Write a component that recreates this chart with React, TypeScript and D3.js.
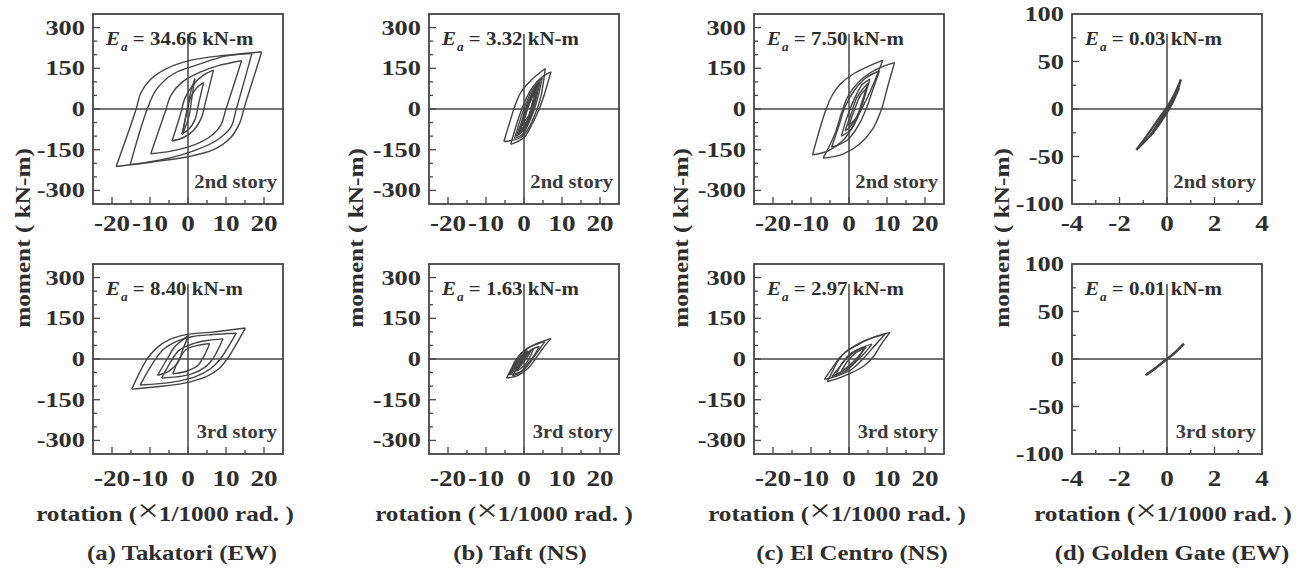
import React from 'react';
import * as d3 from 'd3';

type Pt = [number, number];

// panel texts
const captions = ['(a) Takatori (EW)', '(b) Taft (NS)', '(c) El Centro (NS)', '(d) Golden Gate (EW)'];
const stories = ['2nd story', '3rd story'];
const energy2nd = ['34.66', '3.32', '7.50', '0.03'];
const energy3rd = ['8.40', '1.63', '2.97', '0.01'];

// axis ticks
const momentTicks = [-300, -150, 0, 150, 300];
const momentMinor = [-300, -250, -200, -150, -100, -50, 0, 50, 100, 150, 200, 250, 300];
const rotationTicks = [-20, -10, 0, 10, 20];
const rotationMinor = [-20, -15, -10, -5, 0, 5, 10, 15, 20];
const ggMomentTicks = [-100, -50, 0, 50, 100];
const ggMomentMinor = [-75, -50, -25, 0, 25, 50, 75];
const ggRotationTicks = [-4, -2, 0, 2, 4];
const ggRotationMinor = [-3, -2, -1, 0, 1, 2, 3];

// hysteresis loops: [rotation (x1/1000 rad), moment (kN-m)]
// each loop starts at its negative peak, climbs to its positive peak and comes back
const takatori2nd: Pt[][] = [
  [[-18.9, -212], [-13.7, -3], [-12.4, 60], [-9.8, 110], [-5.5, 150], [0.6, 179], [9.3, 197], [19.4, 210], [14.9, 10], [13.6, -52], [11.0, -109], [6.7, -150], [-0.3, -177], [-9.8, -196], [-18.9, -212]],
  [[-15.2, -205], [-10.8, -3], [-8.3, 72], [-3.9, 129], [3.2, 166], [9.8, 195], [16.8, 204], [12.8, 4], [11.2, -69], [7.6, -115], [1.5, -154], [-7.2, -188], [-15.2, -205]],
  [[-9.8, -165], [-6.0, -10], [-4.5, 50], [-1.5, 100], [3.0, 135], [8.0, 160], [14.1, 178], [10.0, 0], [8.6, -60], [5.5, -105], [0.5, -138], [-4.5, -155], [-9.8, -165]],
  [[-4.2, -118], [-2.0, -20], [-0.8, 40], [1.5, 92], [4.0, 124], [6.7, 143], [4.5, 20], [3.6, -30], [1.5, -78], [-1.2, -105], [-4.2, -118]],
  [[-1.6, -92], [-0.4, -20], [0.6, 40], [2.3, 78], [4.1, 97], [2.8, 20], [1.8, -40], [0.2, -75], [-1.6, -92]],
  [[-1.5, -95], [-0.5, -20], [0.5, 50], [1.8, 112], [1.0, 40], [0.2, -30], [-1.5, -95]],
];
const takatori3rd: Pt[][] = [
  [[-14.8, -111], [-10.9, -3], [-8.2, 41], [-4.8, 72], [-0.5, 90], [5.7, 98], [15.1, 114], [10.5, 4], [8.3, -34], [4.8, -65], [-1.3, -90], [-8.2, -102], [-14.8, -111]],
  [[-12.6, -96], [-9.0, -10], [-6.5, 35], [-3.0, 65], [1.0, 82], [6.5, 90], [12.7, 95], [8.5, 0], [6.0, -35], [2.0, -65], [-4.0, -85], [-12.6, -96]],
  [[-6.9, -70], [-4.5, -10], [-2.5, 30], [1.0, 55], [5.0, 68], [9.2, 74], [6.5, 0], [4.5, -30], [1.0, -55], [-3.0, -66], [-6.9, -70]],
  [[-4.0, -55], [-2.5, -5], [-0.5, 35], [2.5, 50], [5.7, 56], [4.0, 5], [2.5, -25], [-0.5, -45], [-4.0, -55]],
  [[-8.0, -60], [-5.5, 0], [-3.5, 45], [-1.0, 75], [0.2, 88], [-1.5, 30], [-2.5, -10], [-5.0, -45], [-8.0, -60]],
];
const taft2nd: Pt[][] = [
  [[-5.3, -120], [-3.5, -37], [-2.2, 19], [-0.8, 62], [1.8, 105], [5.6, 149], [4.4, 43], [3.1, -12], [1.3, -68], [-0.8, -105], [-5.3, -120]],
  [[-3.5, -130], [-1.8, -50], [0.0, 20], [2.0, 75], [4.5, 115], [7.1, 138], [5.5, 60], [4.0, 0], [2.0, -60], [0.0, -105], [-3.5, -130]],
  [[-2.5, -108], [-1.0, -40], [0.5, 20], [2.2, 70], [4.8, 115], [3.6, 40], [2.5, -10], [1.0, -60], [-0.5, -95], [-2.5, -108]],
  [[-1.5, -92], [0.0, -30], [1.2, 30], [2.8, 75], [4.2, 102], [3.2, 40], [2.0, -20], [0.5, -65], [-1.5, -92]],
  [[-1.0, -78], [0.3, -20], [1.5, 30], [3.4, 88], [2.4, 30], [1.5, -20], [0.2, -60], [-1.0, -78]],
  [[-0.5, -62], [0.8, 0], [2.0, 50], [3.2, 72], [2.0, 10], [1.0, -40], [-0.5, -62]],
  [[-2.0, -100], [-0.6, -45], [0.8, 15], [2.5, 65], [4.0, 90], [2.6, 25], [1.4, -30], [-0.2, -80], [-2.0, -100]],
  [[-1.2, -85], [0.1, -35], [1.4, 20], [3.0, 70], [3.8, 84], [2.8, 30], [1.6, -25], [0.0, -70], [-1.2, -85]],
  [[-0.2, -50], [1.0, 5], [2.2, 45], [3.0, 60], [2.2, 20], [1.2, -25], [-0.2, -50]],
];
const taft3rd: Pt[][] = [
  [[-4.6, -70], [-3.5, -40], [-2.0, 0], [0.0, 30], [3.0, 55], [7.1, 76], [5.0, 40], [3.0, 0], [1.0, -35], [-1.5, -60], [-4.6, -70]],
  [[-4.0, -58], [-2.5, -20], [-1.0, 15], [1.0, 40], [3.5, 55], [5.5, 64], [3.5, 25], [1.5, -15], [-0.5, -45], [-4.0, -58]],
  [[-3.0, -62], [-1.5, -25], [0.0, 10], [2.0, 35], [4.0, 46], [2.5, 10], [0.5, -25], [-1.0, -50], [-3.0, -62]],
  [[-2.0, -45], [-0.5, -10], [1.0, 20], [2.5, 38], [1.5, 5], [0.0, -25], [-2.0, -45]],
  [[-3.5, -48], [-2.0, -15], [-0.5, 15], [0.8, 32], [-0.5, 0], [-1.5, -25], [-3.5, -48]],
  [[-2.5, -35], [-1.0, -5], [0.5, 20], [1.8, 30], [0.5, 0], [-1.0, -20], [-2.5, -35]],
  [[-3.8, -55], [-2.2, -25], [-0.8, 5], [0.5, 22], [1.2, 28], [0.2, 0], [-1.2, -30], [-3.8, -55]],
];
const elCentro2nd: Pt[][] = [
  [[-6.8, -181], [-3.7, -91], [-2.0, -16], [-0.3, 46], [2.8, 103], [7.2, 146], [12.0, 171], [10.2, 84], [8.5, -3], [6.3, -72], [2.8, -129], [-1.6, -166], [-6.8, -181]],
  [[-9.6, -169], [-6.4, -16], [-4.6, 46], [-2.4, 90], [1.0, 128], [5.4, 159], [8.9, 180], [5.4, 59], [3.2, -3], [1.0, -66], [-1.6, -116], [-5.5, -154], [-9.6, -169]],
  [[-4.6, -141], [-2.6, -60], [-1.0, 10], [1.5, 70], [4.5, 115], [8.0, 140], [6.0, 60], [4.5, 0], [2.5, -60], [-0.5, -115], [-4.6, -141]],
  [[-2.0, -100], [-0.5, -30], [1.5, 40], [3.5, 90], [5.5, 110], [4.0, 40], [2.5, -20], [0.5, -75], [-2.0, -100]],
  [[-1.0, -80], [0.5, -20], [2.0, 40], [4.0, 80], [5.0, 95], [3.5, 30], [2.0, -30], [0.0, -70], [-1.0, -80]],
  [[0.0, -60], [1.5, 0], [3.0, 50], [4.5, 75], [3.5, 20], [2.0, -30], [0.0, -60]],
];
const elCentro3rd: Pt[][] = [
  [[-5.7, -83], [-4.5, -50], [-3.0, -10], [-1.0, 25], [2.0, 50], [5.5, 75], [10.8, 98], [8.5, 55], [6.5, 10], [4.0, -25], [0.0, -55], [-3.0, -72], [-5.7, -83]],
  [[-6.5, -75], [-4.5, -35], [-2.5, 5], [0.0, 35], [3.0, 60], [7.0, 82], [9.5, 92], [6.5, 45], [4.0, 5], [1.0, -35], [-3.0, -62], [-6.5, -75]],
  [[-3.5, -60], [-2.0, -20], [0.0, 15], [3.0, 40], [6.0, 55], [4.0, 20], [1.5, -15], [-1.0, -45], [-3.5, -60]],
  [[-2.0, -45], [-0.5, -10], [1.5, 20], [4.0, 38], [2.5, 5], [0.5, -25], [-2.0, -45]],
  [[-4.5, -65], [-2.5, -30], [-0.5, 5], [2.0, 30], [4.5, 45], [2.5, 10], [0.0, -25], [-2.5, -50], [-4.5, -65]],
];
const goldenGate2nd: Pt[][] = [
  [[-1.29, -43], [-0.9, -30], [-0.4, -12], [0.0, 2], [0.3, 15], [0.58, 31], [0.45, 20], [0.15, 5], [-0.2, -10], [-0.6, -25], [-1.29, -43]],
  [[-0.7, -28], [-0.2, -8], [0.25, 10], [0.5, 22], [0.2, 5], [-0.3, -15], [-0.7, -28]],
];
const goldenGate3rd: Pt[][] = [
  [[-0.9, -17], [-0.4, -8], [0.0, 0], [0.35, 7], [0.71, 16], [0.3, 6], [-0.1, -2], [-0.5, -10], [-0.9, -17]],
];

const loops2nd = [takatori2nd, taft2nd, elCentro2nd, goldenGate2nd];
const loops3rd = [takatori3rd, taft3rd, elCentro3rd, goldenGate3rd];

// layout
const W = 190;
const H = 190;
const colLeft = [93, 429, 754, 1072];
const rowTop = [14, 264];
const xLabelDy = [27, 32];
const yTitleX = [23, 356, 681, 1002];
const xTitleX = [165, 504, 837, 1163];
const captionX = [182, 520, 852, 1172];

const FONT = "'Liberation Serif', 'Times New Roman', serif";
const INK = '#2e2e2e';
const LINE = '#454545';

const Txt = ({ x, y, size, anchor = 'middle', weight = 'bold', rotate = 0, sx = 1.15, fill = INK, children }: any) => (
  <text
    transform={`translate(${x},${y}) rotate(${rotate}) scale(${sx},1)`}
    textAnchor={anchor}
    fontSize={size}
    fontWeight={weight}
    fontFamily={FONT}
    fill={fill}
  >
    {children}
  </text>
);

// split a loop at its positive peak so the reversal points stay sharp
const branches = (lp: Pt[]): Pt[][] => {
  const k = d3.maxIndex(lp, (d) => d[1]);
  return [lp.slice(0, k + 1), lp.slice(k)];
};

const Panel = ({ col, row }: { col: number; row: number }) => {
  const gg = col === 3;
  const left = colLeft[col];
  const top = rowTop[row];
  const x = d3.scaleLinear().domain(gg ? [-4, 4] : [-25, 25]).range([left, left + W]);
  const y = d3.scaleLinear().domain(gg ? [-100, 100] : [-350, 350]).range([top + H, top]);
  const line = d3
    .line<Pt>()
    .x((d) => x(d[0]))
    .y((d) => y(d[1]))
    .curve(d3.curveCatmullRom.alpha(0.5));

  const loops = row === 0 ? loops2nd[col] : loops3rd[col];
  const ea = row === 0 ? energy2nd[col] : energy3rd[col];
  const yTicks = gg ? ggMomentTicks : momentTicks;
  const yMinor = gg ? ggMomentMinor : momentMinor;
  const xTicks = gg ? ggRotationTicks : rotationTicks;
  const xMinor = gg ? ggRotationMinor : rotationMinor;

  return (
    <g>
      {yMinor.map((v) => (
        <line key={'ym' + v} x1={left} x2={left + (yTicks.includes(v) ? 7 : 4)} y1={y(v)} y2={y(v)} stroke={LINE} strokeWidth={1.3} />
      ))}
      {xMinor.map((v) => (
        <line key={'xm' + v} x1={x(v)} x2={x(v)} y1={top + H} y2={top + H - (xTicks.includes(v) ? 7 : 4)} stroke={LINE} strokeWidth={1.3} />
      ))}
      <line x1={left} x2={left + W} y1={y(0)} y2={y(0)} stroke={LINE} strokeWidth={1.5} />
      <line x1={x(0)} x2={x(0)} y1={top + 20} y2={top + H} stroke={LINE} strokeWidth={1.5} />
      {loops.flatMap((lp, i) =>
        branches(lp).map((b, j) => (
          <path key={i + '-' + j} d={line(b) || ''} fill="none" stroke={LINE} strokeWidth={gg ? 2.2 : 1.4} strokeLinejoin="round" />
        ))
      )}
      <rect x={left} y={top} width={W} height={H} fill="none" stroke={LINE} strokeWidth={1.8} />
      {yTicks.map((v) => (
        <Txt key={'yl' + v} x={left - 8} y={y(v) + 7} size={22} anchor="end" sx={1.2}>
          {v}
        </Txt>
      ))}
      {xTicks.map((v) => (
        <Txt key={'xl' + v} x={x(v)} y={top + H + xLabelDy[row]} size={23} sx={1.18}>
          {v}
        </Txt>
      ))}
      <Txt x={left + 13} y={top + 31} size={19} anchor="start" sx={1.1}>
        <tspan fontStyle="italic">E</tspan>
        <tspan fontStyle="italic" fontSize={12} dy={6} dx={1}>a</tspan>
        <tspan dy={-6}>{` = ${ea} kN-m`}</tspan>
      </Txt>
      <Txt x={left + W - 6} y={top + H - 16} size={19} anchor="end" sx={1.08} fill="#3a3a3a">
        {stories[row]}
      </Txt>
    </g>
  );
};

export default function App() {
  return (
    <svg width={1301} height={568} style={{ position: 'absolute', left: 0, top: 0, background: '#fff' }}>
      <rect width={1301} height={568} fill="#fff" />
      {colLeft.map((_, c) => (
        <g key={c}>
          <Panel col={c} row={0} />
          <Panel col={c} row={1} />
          <Txt x={yTitleX[c] + 7} y={238} size={22} rotate={-90}>
            moment ( kN-m)
          </Txt>
          <Txt x={xTitleX[c]} y={521} size={21} sx={1.2}>
            rotation (<tspan fontWeight="normal" fontSize={32}>×</tspan>1/1000 rad. )
          </Txt>
          <Txt x={captionX[c]} y={560} size={21} sx={1.18}>
            {captions[c]}
          </Txt>
        </g>
      ))}
    </svg>
  );
}
